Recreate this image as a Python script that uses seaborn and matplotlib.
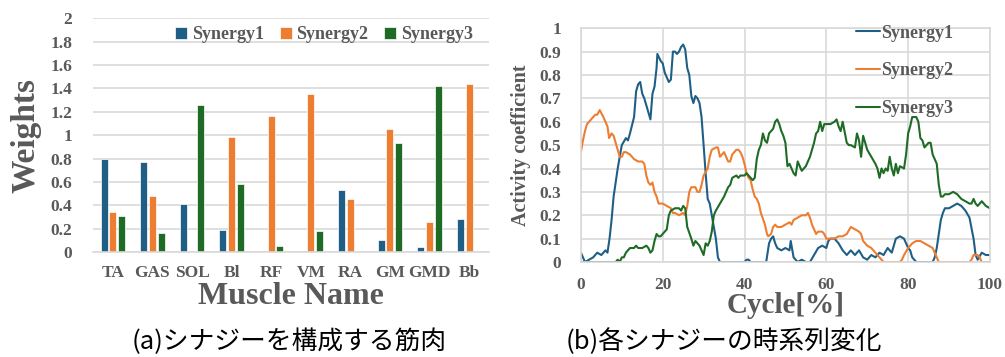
import numpy as np
import pandas as pd
import matplotlib
matplotlib.use("Agg")
import matplotlib.pyplot as plt
import seaborn as sns

# ---- muscle synergy weights -------------------------------------------
muscles = ["TA", "GAS", "SOL", "Bl", "RF", "VM", "RA", "GM", "GMD", "Bb"]
synergy_names = ["Synergy1", "Synergy2", "Synergy3"]
w_syn1 = [0.80, 0.77, 0.41, 0.19, 0.00, 0.00, 0.53, 0.10, 0.04, 0.28]
w_syn2 = [0.34, 0.48, 0.00, 0.98, 1.16, 1.35, 0.45, 1.05, 0.26, 1.44]
w_syn3 = [0.31, 0.16, 1.26, 0.58, 0.05, 0.18, 0.00, 0.93, 1.42, 0.00]

# ---- activation coefficients over the gait cycle: (cycle %, value) ----
syn1_points = [
    (0, 0.04), (1, 0.00), (2, 0.01), (3, 0.02), (4, 0.04), (5, 0.03), (6, 0.05),
    (6.5, 0.04), (7, 0.10), (7.5, 0.18), (8, 0.28), (9, 0.40), (9.5, 0.45),
    (10, 0.50), (11, 0.53), (11.5, 0.52), (12, 0.55), (13, 0.62), (13.5, 0.73),
    (14, 0.76), (14.5, 0.77), (15, 0.72), (15.5, 0.70), (16, 0.67), (17, 0.61),
    (17.5, 0.72), (18, 0.75), (18.5, 0.83), (18.7, 0.89), (19.5, 0.86),
    (20, 0.85), (20.5, 0.81), (21, 0.79), (21.5, 0.77), (22, 0.78), (22.5, 0.90),
    (23, 0.90), (23.5, 0.89), (24, 0.90), (24.5, 0.92), (25, 0.93), (25.5, 0.91),
    (26, 0.83), (26.5, 0.80), (27, 0.71), (27.5, 0.68), (28, 0.71), (28.5, 0.70),
    (29, 0.68), (29.5, 0.62), (30, 0.50), (30.5, 0.38), (31, 0.27), (31.5, 0.25),
    (32, 0.20), (33, 0.10), (33.5, 0.02), (34, 0.00), (40, 0.00), (40.5, 0.01),
    (41, 0.01), (41.5, 0.00), (45.3, 0.00), (46, 0.08), (46.5, 0.10), (47, 0.11),
    (47.5, 0.08), (48, 0.06), (49, 0.05), (50, 0.06), (51, 0.05), (51.3, 0.09),
    (52, 0.02), (53, 0.00), (54, 0.01), (55, 0.00), (56, 0.00), (57, 0.03),
    (58, 0.06), (59, 0.07), (60, 0.06), (60.5, 0.09), (61, 0.10), (62, 0.10),
    (63, 0.08), (64, 0.05), (65, 0.03), (66, 0.05), (67, 0.03), (68, 0.05),
    (69, 0.02), (70, 0.01), (71, 0.03), (72, 0.02), (73, 0.04), (74, 0.03),
    (75, 0.06), (76, 0.04), (77, 0.10), (78, 0.11), (79, 0.10), (80, 0.06),
    (80.5, 0.05), (81, 0.02), (82, 0.00), (86, 0.00), (86.5, 0.02), (87, 0.06),
    (88, 0.18), (88.5, 0.21), (89, 0.23), (90, 0.23), (91, 0.24), (92, 0.25),
    (93, 0.24), (94, 0.22), (95, 0.19), (96, 0.10), (96.5, 0.03), (97, 0.01),
    (98, 0.04), (99, 0.03), (100, 0.03),
]
syn2_points = [
    (0, 0.47), (0.5, 0.52), (1, 0.56), (1.5, 0.59), (2, 0.60), (3, 0.62),
    (3.5, 0.63), (4, 0.63), (4.6, 0.65), (5.5, 0.62), (6, 0.60), (6.5, 0.58),
    (6.9, 0.53), (7.5, 0.55), (8, 0.54), (8.5, 0.51), (9, 0.48), (9.5, 0.45),
    (10, 0.45), (10.5, 0.47), (11, 0.47), (12, 0.46), (12.5, 0.45), (13, 0.44),
    (14, 0.43), (15, 0.43), (15.5, 0.42), (16, 0.37), (16.5, 0.34), (17, 0.33),
    (17.5, 0.34), (18, 0.30), (18.5, 0.28), (19, 0.25), (20, 0.25), (21, 0.24),
    (22, 0.23), (22.5, 0.21), (23, 0.21), (24, 0.20), (25, 0.21), (25.5, 0.20),
    (26, 0.24), (26.5, 0.30), (27, 0.32), (28, 0.32), (28.5, 0.30), (29, 0.30),
    (29.5, 0.33), (30, 0.37), (31, 0.40), (31.5, 0.45), (32, 0.48), (33, 0.49),
    (33.5, 0.49), (34, 0.45), (34.5, 0.46), (35, 0.47), (35.5, 0.45), (36, 0.43),
    (36.5, 0.43), (37, 0.46), (38, 0.48), (38.5, 0.48), (39, 0.47), (39.5, 0.45),
    (40, 0.42), (40.5, 0.38), (41, 0.36), (41.5, 0.35), (42, 0.31), (42.5, 0.28),
    (43, 0.27), (43.5, 0.25), (44, 0.21), (45, 0.16), (45.5, 0.12), (45.8, 0.11),
    (46.5, 0.12), (47, 0.15), (47.5, 0.16), (48, 0.15), (49, 0.15), (50, 0.16),
    (51, 0.17), (51.5, 0.16), (52, 0.18), (53, 0.19), (54, 0.20), (55, 0.20),
    (55.5, 0.21), (56, 0.19), (56.5, 0.16), (57, 0.14), (57.5, 0.12), (58, 0.13),
    (59, 0.13), (59.5, 0.12), (60, 0.10), (61, 0.10), (62, 0.10), (63, 0.11),
    (64, 0.11), (65, 0.12), (66, 0.15), (67, 0.14), (68, 0.13), (68.5, 0.12),
    (69, 0.09), (70, 0.07), (71, 0.06), (72, 0.04), (73, 0.02), (73.5, 0.01),
    (74, 0.00), (78, 0.00), (78.5, 0.01), (79, 0.03), (80, 0.06), (81, 0.08),
    (82, 0.09), (83, 0.09), (84, 0.08), (85, 0.07), (86, 0.06), (86.5, 0.04),
    (87, 0.02), (87.5, 0.00), (95, 0.00), (95.5, 0.01), (96, 0.03), (97, 0.03),
    (97.5, 0.02), (98, 0.00), (100, 0.00),
]
syn3_points = [
    (0, 0.00), (8.5, 0.00), (9, 0.01), (9.5, 0.00), (10, 0.02), (10.5, 0.02),
    (11, 0.04), (11.5, 0.05), (12, 0.06), (13, 0.06), (13.5, 0.07), (14, 0.06),
    (15, 0.06), (16, 0.07), (16.5, 0.06), (17, 0.04), (17.5, 0.05), (18, 0.09),
    (18.5, 0.12), (19, 0.11), (19.5, 0.11), (20, 0.12), (21, 0.14), (21.5, 0.20),
    (22, 0.22), (23, 0.23), (24, 0.23), (24.5, 0.22), (25, 0.24), (25.5, 0.23),
    (26, 0.15), (27, 0.10), (27.5, 0.07), (28, 0.09), (29, 0.07), (29.5, 0.05),
    (30, 0.03), (30.5, 0.08), (31, 0.07), (31.5, 0.09), (32, 0.13), (32.5, 0.20),
    (33, 0.22), (34, 0.25), (35, 0.28), (35.5, 0.30), (36, 0.32), (36.5, 0.33),
    (37, 0.36), (38, 0.37), (38.5, 0.36), (39, 0.37), (40, 0.37), (40.5, 0.38),
    (41, 0.37), (42, 0.35), (42.5, 0.36), (43, 0.44), (43.5, 0.48), (44, 0.50),
    (44.5, 0.55), (45, 0.52), (45.5, 0.51), (46, 0.55), (47, 0.57), (47.5, 0.60),
    (48, 0.61), (48.5, 0.59), (49, 0.56), (49.5, 0.54), (50, 0.51), (50.5, 0.41),
    (51, 0.42), (51.5, 0.40), (52, 0.38), (52.5, 0.37), (53, 0.43), (53.5, 0.41),
    (54, 0.39), (55, 0.41), (55.5, 0.43), (56, 0.45), (57, 0.51), (57.5, 0.55),
    (58, 0.56), (58.5, 0.60), (59, 0.56), (59.5, 0.59), (60, 0.59), (61, 0.59),
    (62, 0.60), (62.5, 0.61), (63, 0.58), (63.5, 0.56), (64, 0.60), (65, 0.51),
    (65.5, 0.50), (66, 0.50), (67, 0.49), (67.5, 0.55), (68, 0.52), (68.5, 0.45),
    (69, 0.54), (70, 0.48), (71, 0.45), (72, 0.42), (72.5, 0.40), (73, 0.36),
    (73.5, 0.40), (74, 0.38), (74.5, 0.40), (75, 0.39), (75.5, 0.45), (76, 0.40),
    (76.5, 0.37), (77, 0.42), (77.5, 0.38), (78, 0.41), (79, 0.40), (79.5, 0.46),
    (80, 0.55), (80.5, 0.58), (81, 0.62), (82, 0.62), (82.5, 0.60), (83, 0.53),
    (83.5, 0.52), (84, 0.49), (85, 0.51), (85.5, 0.51), (86, 0.46), (87, 0.42),
    (87.5, 0.33), (88, 0.28), (88.5, 0.28), (89, 0.29), (90, 0.29), (91, 0.30),
    (92, 0.29), (93, 0.27), (94, 0.26), (95, 0.25), (95.5, 0.25), (96, 0.27),
    (96.5, 0.25), (97, 0.24), (98, 0.26), (99, 0.24), (100, 0.23),
]

colors = ["#1F5F86", "#ED7D31", "#1E6B26"]
text_gray = "#595959"
grid_gray = "#D9D9D9"
serif = "Liberation Serif"

sns.set_theme(style="white")
plt.rcParams["font.family"] = [serif, "DejaVu Sans"]

fig = plt.figure(figsize=(10.05, 3.57), dpi=100)
ax1 = fig.add_axes([0.0925, 0.294, 0.394, 0.655])
ax2 = fig.add_axes([0.578, 0.266, 0.407, 0.655])

# ---- (a) bar chart of synergy weights ----------------------------------
bars = pd.DataFrame({
    "muscle": muscles * 3,
    "synergy": [s for s in synergy_names for _ in muscles],
    "weight": w_syn1 + w_syn2 + w_syn3,
})
sns.barplot(data=bars, x="muscle", y="weight", hue="synergy",
            palette=colors, saturation=1, width=0.66, gap=0.2,
            edgecolor="white", linewidth=0.5, ax=ax1, legend=True)
ax1.set_ylim(0, 2)
ax1.set_xlim(-0.5, len(muscles) - 0.5)
yt1 = np.arange(0, 2.01, 0.2).round(1)
ax1.set_yticks(yt1)
ax1.set_yticklabels([f"{v:g}" for v in yt1])
ax1.yaxis.grid(True, color=grid_gray, linewidth=1.2)
ax1.set_axisbelow(True)
for s in ["left", "right", "top"]:
    ax1.spines[s].set_visible(False)
ax1.spines["bottom"].set_color(grid_gray)
ax1.spines["bottom"].set_linewidth(1.2)
ax1.tick_params(axis="y", length=0, pad=15)
ax1.tick_params(axis="x", length=0, pad=9)
for lab in ax1.get_xticklabels() + ax1.get_yticklabels():
    lab.set_fontweight("bold")
    lab.set_fontsize(12.5)
    lab.set_color(text_gray)
ax1.set_xlabel("Muscle Name", fontsize=23, fontweight="bold", color=text_gray,
               labelpad=1)
ax1.set_ylabel("Weights", fontsize=24, fontweight="bold", color=text_gray,
               labelpad=6)
leg1 = ax1.legend(ncol=3, loc="upper right", bbox_to_anchor=(1.0, 1.035),
                  frameon=False, handlelength=0.65, handleheight=0.65,
                  handletextpad=0.25, columnspacing=0.9,
                  prop={"family": serif, "weight": "bold", "size": 13})
for t in leg1.get_texts():
    t.set_color(text_gray)

# ---- (b) time series of activation coefficients ------------------------
series = {"Synergy1": syn1_points, "Synergy2": syn2_points,
          "Synergy3": syn3_points}
lines = pd.DataFrame(
    [(name, x, y) for name, pts in series.items() for x, y in pts],
    columns=["synergy", "cycle", "coef"],
)
sns.lineplot(data=lines, x="cycle", y="coef", hue="synergy", palette=colors,
             linewidth=1.5, sort=False, estimator=None, ax=ax2)
ax2.set_xlim(0, 100)
ax2.set_ylim(0, 1)
ax2.set_xticks(np.arange(0, 101, 20))
yt2 = np.arange(0, 1.01, 0.1).round(1)
ax2.set_yticks(yt2)
ax2.set_yticklabels([f"{v:g}" for v in yt2])
ax2.grid(True, color=grid_gray, linewidth=1.2)
ax2.set_axisbelow(True)
for s in ["left", "right", "top", "bottom"]:
    ax2.spines[s].set_color(grid_gray)
    ax2.spines[s].set_linewidth(1.2)
ax2.tick_params(axis="y", length=0, pad=14)
ax2.tick_params(axis="x", length=0, pad=11)
for lab in ax2.get_xticklabels() + ax2.get_yticklabels():
    lab.set_fontweight("bold")
    lab.set_fontsize(12.5)
    lab.set_color(text_gray)
ax2.set_xlabel("Cycle[%]", fontsize=21, fontweight="bold", color=text_gray,
               labelpad=-1)
ax2.set_ylabel("Activity coefficient", fontsize=14.5, fontweight="bold",
               color=text_gray, labelpad=6)
leg2 = ax2.legend(loc="upper left", bbox_to_anchor=(0.632, 1.085),
                  frameon=False, handlelength=1.35, handletextpad=0.05,
                  labelspacing=1.15,
                  prop={"family": serif, "weight": "bold", "size": 13})
for t in leg2.get_texts():
    t.set_color(text_gray)

# ---- captions -----------------------------------------------------------
cjk = ["Noto Sans CJK JP", "DejaVu Sans"]
fig.text(0.288, 0.042, "(a)シナジーを構成する筋肉", ha="center", va="center",
         fontsize=18.5, family=cjk, color="black")
fig.text(0.720, 0.042, "(b)各シナジーの時系列変化", ha="center", va="center",
         fontsize=18.5, family=cjk, color="black")

fig.savefig("out.png", dpi=100)
